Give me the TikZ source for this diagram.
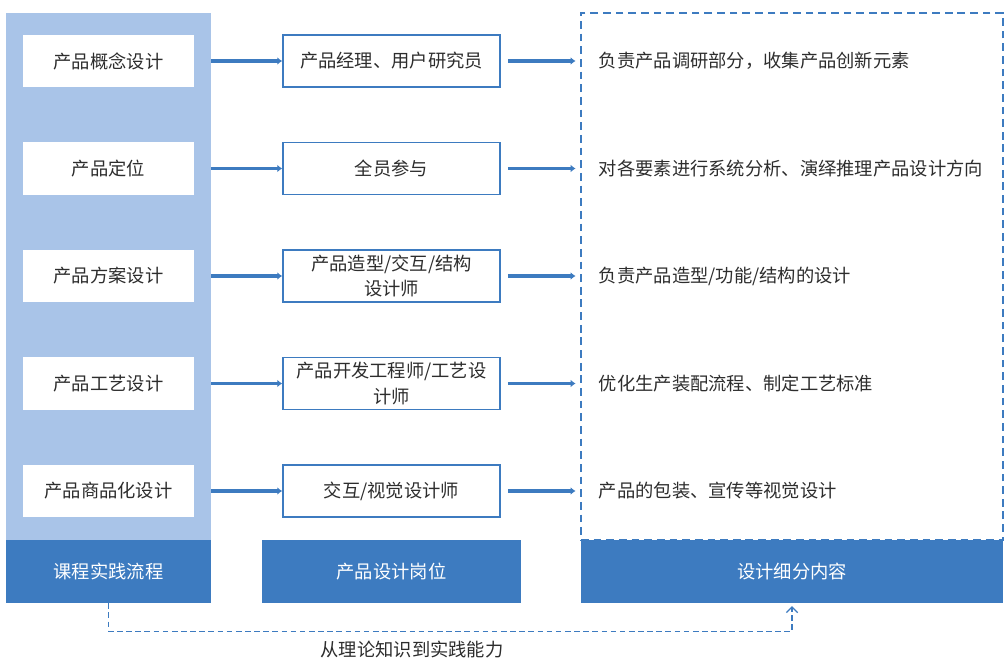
\documentclass[tikz,border=0pt]{standalone}
\usepackage{fontspec}
\setmainfont{Noto Sans CJK SC}
\usetikzlibrary{arrows.meta,positioning}
\definecolor{paleBlue}{RGB}{169,196,232}
\definecolor{deepBlue}{RGB}{61,123,192}
\definecolor{inkGray}{RGB}{45,45,45}

\tikzset{
  txt/.style={font=\fontsize{13}{18}\selectfont, text=inkGray},
  stage/.style={txt, fill=white, minimum width=4.275cm, minimum height=1.3cm, inner sep=0pt},
  role/.style={txt, draw=deepBlue, line width=1.1pt, fill=white, minimum width=5.425cm,
    minimum height=1.3cm, inner sep=0pt, align=center},
  footer/.style={fill=deepBlue, font=\fontsize{13}{18}\selectfont, text=white,
    minimum height=1.575cm, inner sep=0pt},
  flow/.style={deepBlue, line width=2.2pt, -{Latex[length=3.5pt,width=5.5pt]}}
}

\begin{document}
\begin{tikzpicture}[x=0.025cm,y=-0.025cm]
\useasboundingbox (0,0) rectangle (1005,663);

% Background columns
\node[fill=paleBlue, minimum width=5.125cm, minimum height=13.175cm, inner sep=0pt] (track) at (108.5,276.5) {};
\node[draw=deepBlue, line width=1.7pt, dash pattern=on 5.5pt off 3.5pt, minimum width=10.55cm,
  minimum height=13.175cm, inner sep=0pt] (detail) at (792,276.5) {};

% Footer bars
\node[footer, minimum width=5.125cm] (course) at (108.5,571.5) {课程实践流程};
\node[footer, minimum width=6.475cm] (post) at (391.5,571.5) {产品设计岗位};
\node[footer, minimum width=10.55cm] (content) at (792,571.5) {设计细分内容};

% Rows: stage, role, detail text
\foreach \i/\st/\ro/\de in {
  1/{产品概念设计}/{产品经理、用户研究员}/{负责产品调研部分，收集产品创新元素},
  2/{产品定位}/{全员参与}/{对各要素进行系统分析、演绎推理产品设计方向},
  3/{产品方案设计}/{产品造型/交互/结构\\设计师}/{负责产品造型/功能/结构的设计},
  4/{产品工艺设计}/{产品开发工程师/工艺设\\计师}/{优化生产装配流程、制定工艺标准},
  5/{产品商品化设计}/{交互/视觉设计师}/{产品的包装、宣传等视觉设计}}{
  \pgfmathsetmacro{\yy}{61+107.5*(\i-1)}
  \node[stage] (stage\i) at (108.5,\yy) {\st};
  \node[role] (role\i) at (391.5,\yy) {\ro};
  \node[txt, anchor=west] (note\i) at (594,\yy) {\de};
  \draw[flow] (track.east |- role\i.west) -- (role\i.west);
  \draw[flow, shorten <=5pt, shorten >=3pt] (role\i.east) -- (detail.west |- role\i.east);
}

% Feedback from theory to practice
\draw[deepBlue, line width=0.9pt, dash pattern=on 4pt off 2.5pt, -{Straight Barb[length=4pt,width=8pt]}]
  (course.south) -- ++(0,28) -| ([yshift=-2pt]content.south);
\node[txt] (gain) at (412,650) {从理论知识到实践能力};

\end{tikzpicture}
\end{document}
